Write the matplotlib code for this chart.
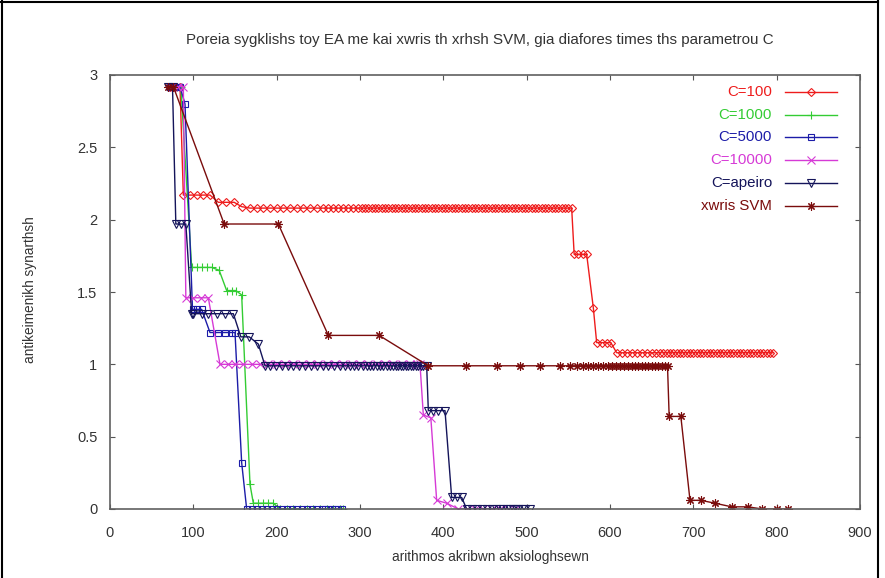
import numpy as np
import matplotlib
matplotlib.use("Agg")
import matplotlib.pyplot as plt
from matplotlib.lines import Line2D

plt.rcParams['font.family'] = ['Liberation Sans', 'DejaVu Sans']

# each series: list of (level, x positions at that level)
c100_steps = [
    (2.92, [72, 78, 84]),
    (2.17, [88, 96, 104, 112, 120]),
    (2.12, [130, 139, 149]),
    (2.09, [158]),
    (2.08, [168, 176, 184, 192, 200, 208, 216, 224, 232, 240, 248, 256, 262, 268,
            274, 280, 286, 292, 298, 302, 306, 310, 314, 318, 322, 326, 330, 334,
            338, 342, 346, 350, 354, 358, 362, 366, 370, 374, 378, 382, 386, 390,
            394, 398, 402, 406, 410, 414, 418, 422, 426, 430, 434, 438, 442, 446,
            450, 454, 458, 462, 466, 470, 474, 478, 482, 486, 490, 494, 498, 502,
            506, 510, 514, 518, 522, 526, 530, 534, 538, 542, 546, 550, 554]),
    (1.76, [557, 562, 567, 572]),
    (1.39, [580]),
    (1.15, [584, 590, 596, 601]),
    (1.08, [608, 614, 620, 626, 632, 638, 644, 650, 655, 660, 664, 668, 672, 676,
            680, 684, 688, 692, 696, 700, 704, 708, 712, 716, 720, 724, 728, 732,
            736, 740, 744, 748, 752, 756, 760, 764, 768, 772, 776, 780, 784, 788,
            792, 796]),
]

c1000_steps = [
    (2.92, [74, 80, 85]),
    (1.67, [98, 104, 110, 116, 122]),
    (1.65, [131]),
    (1.51, [140, 146, 151]),
    (1.48, [158]),
    (0.17, [168]),
    (0.04, [172, 178, 184, 190, 196]),
    (0.0, [204, 212, 220, 228, 236, 244, 252, 260, 268, 276, 280]),
]

c5000_steps = [
    (2.92, [72, 78, 84]),
    (2.80, [90]),
    (1.38, [99, 104, 110]),
    (1.22, [120, 129, 138, 146, 150]),
    (0.32, [158]),
    (0.0, [164, 170, 176, 182, 188, 194, 200, 206, 212, 218, 224, 230, 236, 242,
           248, 254, 258, 262, 266, 270, 274, 278]),
]

c10000_steps = [
    (2.92, [76, 82, 88]),
    (1.46, [91, 100, 109, 118]),
    (1.00, [132, 142, 150, 160, 170, 180, 190, 200, 210, 220, 230, 240, 250, 260,
            270, 280, 290, 300, 310, 320, 330, 340, 350, 360, 368, 372]),
    (0.65, [376]),
    (0.63, [385]),
    (0.06, [392]),
    (0.04, [404]),
    (0.0, [418, 428, 438, 448, 458, 468, 478, 486]),
]

capeiro_steps = [
    (2.92, [70, 75]),
    (1.97, [79, 85, 91]),
    (1.35, [98, 100, 110, 118, 128, 138, 148]),
    (1.19, [157, 167]),
    (1.14, [178]),
    (0.99, [186, 192, 199, 206, 213, 220, 227, 234, 241, 248, 255, 262, 269, 276,
            282, 288, 293, 298, 303, 308, 312, 316, 320, 324, 328, 332, 336, 340,
            343, 346, 349, 352, 355, 358, 361, 364, 367, 370, 373, 376, 380]),
    (0.68, [382, 388, 394, 402]),
    (0.08, [410, 416, 422]),
    (0.0, [428, 434, 440, 446, 452, 458, 463, 468, 472, 476, 480, 484, 487, 490,
           494, 498, 504]),
]

svm_steps = [
    (2.92, [70, 76]),
    (1.97, [137, 202]),
    (1.20, [262, 323]),
    (0.99, [382, 427, 464, 492, 516, 540, 552, 560, 567, 574, 580, 586, 592, 597,
            602, 607, 612, 617, 622, 626, 630, 634, 638, 642, 646, 650, 654, 658,
            662, 666, 669]),
    (0.64, [671, 685]),
    (0.06, [696, 709]),
    (0.04, [726]),
    (0.015, [746, 765]),
    (0.0, [783, 800, 814]),
]

labels = ["C=100", "C=1000", "C=5000", "C=10000", "C=apeiro", "xwris SVM"]
colors = ["#ee1c1c", "#33cc33", "#1c1ca8", "#d63ad6", "#14145a", "#7a0c0c"]
markers = ["D", "+", "s", "x", "v", (8, 2, 0)]
msizes = [4.5, 6, 5, 5.5, 5.5, 6]
all_steps = [c100_steps, c1000_steps, c5000_steps, c10000_steps, capeiro_steps, svm_steps]


def unpack(steps):
    xs, ys = [], []
    for level, pts in steps:
        for p in pts:
            xs.append(p)
            ys.append(level)
    return np.array(xs), np.array(ys)


fig = plt.figure(figsize=(8.85, 5.78), dpi=100)
ax = fig.add_axes([110 / 885, 1 - 509 / 578, 750 / 885, 434 / 578])

for steps, lab, col, mk, ms in zip(all_steps, labels, colors, markers, msizes):
    x, y = unpack(steps)
    ax.plot(x, y, color=col, lw=1, marker=mk, ms=ms, mfc='none', mec=col, mew=0.8)

ax.set_xlim(0, 900)
ax.set_ylim(0, 3)
ax.set_xticks(np.arange(0, 901, 100))
ax.set_yticks([0, 0.5, 1, 1.5, 2, 2.5, 3])
ax.set_yticklabels(["0", "0.5", "1", "1.5", "2", "2.5", "3"])
ax.tick_params(direction='in', length=3.5, width=0.8, color='#555555',
               labelsize=10.5, labelcolor='#333333', top=True, right=True)
ax.tick_params(axis='x', pad=12)
ax.tick_params(axis='y', pad=9)
for s in ax.spines.values():
    s.set_color('#606060')
    s.set_linewidth(1.2)

ax.set_xlabel("arithmos akribwn aksiologhsewn", fontsize=9.8, color='#333333')
ax.xaxis.set_label_coords(0.507, -0.095)
ax.set_ylabel("antikeimenikh synarthsh", fontsize=9.8, color='#333333')
ax.yaxis.set_label_coords(-0.097, 0.505)

fig.text(480 / 885, 1 - 40 / 578,
         "Poreia sygklishs toy EA me kai xwris th xrhsh SVM, gia diafores times ths parametrou C",
         ha='center', va='center', fontsize=10.9, color='#333333')

# key in the upper right, text right aligned, sample to its right
for i, (lab, col, mk, ms) in enumerate(zip(labels, colors, markers, msizes)):
    yy = 0.961 - i * 0.0525
    ax.text(0.8827, yy, lab, transform=ax.transAxes, ha='right', va='center',
            fontsize=10.8, color=col)
    ax.add_line(Line2D([0.9, 0.9693], [yy, yy], transform=ax.transAxes, color=col, lw=1))
    ax.add_line(Line2D([0.9347], [yy], transform=ax.transAxes, color=col, lw=0,
                       marker=mk, ms=ms, mfc='none', mec=col, mew=0.8))

# outer frame of the figure
fig.add_artist(Line2D([1.5 / 885, 1.5 / 885], [0, 1], transform=fig.transFigure, color='black', lw=1.5))
fig.add_artist(Line2D([0, 878 / 885], [1 - 1.5 / 578, 1 - 1.5 / 578], transform=fig.transFigure, color='black', lw=1.5))
fig.add_artist(Line2D([878 / 885, 878 / 885], [0, 1], transform=fig.transFigure, color='black', lw=1.5))

fig.savefig("out.png", dpi=100)
